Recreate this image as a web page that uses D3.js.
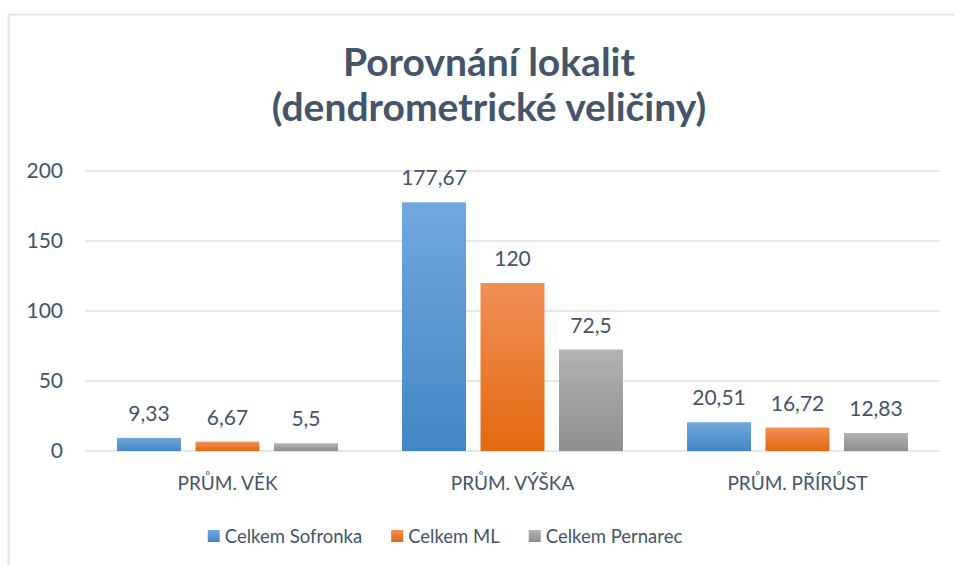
<!DOCTYPE html>
<html>
<head>
<meta charset="utf-8">
<script src="https://cdn.jsdelivr.net/npm/d3@7"></script>
<style>
  body { margin: 0; background: #fff; }
  text { font-family: Lato, "Open Sans", sans-serif; fill: #44546a; }
</style>
</head>
<body>
<div id="chart"></div>
<script>
'use strict';
// data
const categories = ["PRŮM. VĚK", "PRŮM. VÝŠKA", "PRŮM. PŘÍRŮST"];
const seriesNames = ["Celkem Sofronka", "Celkem ML", "Celkem Pernarec"];
const sofronka = [9.33, 177.67, 20.51];
const ml = [6.67, 120, 16.72];
const pernarec = [5.5, 72.5, 12.83];
const yTicks = [0, 50, 100, 150, 200];

const seriesValues = [sofronka, ml, pernarec];
// gradient colours top -> bottom
const colors = [["#72a7dd", "#4386c6"], ["#f18f57", "#e2690f"], ["#b3b3b3", "#8e8e8e"]];

const W = 955, H = 565;
const margin = {left: 85, right: 15, top: 171, bottom: 114};

const svg = d3.select("#chart").append("svg")
    .attr("width", W)
    .attr("height", H);

// light frame of the chart area
svg.append("line").attr("x1", 8).attr("x2", W).attr("y1", 14.5).attr("y2", 14.5)
    .attr("stroke", "#e1e5eb").attr("stroke-width", 2);
svg.append("line").attr("x1", 8.5).attr("x2", 8.5).attr("y1", 14).attr("y2", H)
    .attr("stroke", "#e1e5eb").attr("stroke-width", 2);

const defs = svg.append("defs");
colors.forEach(function(c, i) {
    const g = defs.append("linearGradient")
        .attr("id", "grad" + i)
        .attr("x1", 0).attr("y1", 0).attr("x2", 0).attr("y2", 1);
    g.append("stop").attr("offset", "0%").attr("stop-color", c[0]);
    g.append("stop").attr("offset", "100%").attr("stop-color", c[1]);
});

// title
const title = svg.append("text")
    .attr("text-anchor", "middle")
    .style("font-weight", "bold")
    .style("font-size", "39px");
title.append("tspan").attr("x", 489).attr("y", 76).text("Porovnání lokalit");
title.append("tspan").attr("x", 489).attr("y", 121).text("(dendrometrické veličiny)");

const x0 = d3.scaleBand()
    .domain(categories)
    .range([margin.left, W - margin.right]);

const x1 = d3.scaleBand()
    .domain(seriesNames)
    .range([0, x0.bandwidth()])
    .paddingInner(0.185)
    .paddingOuter(0.408);

const y = d3.scaleLinear()
    .domain([0, 200])
    .range([H - margin.bottom, margin.top]);

// grid lines
svg.append("g")
    .selectAll("line")
    .data(yTicks)
    .enter().append("line")
    .attr("x1", margin.left)
    .attr("x2", W - margin.right)
    .attr("y1", function(d) { return y(d); })
    .attr("y2", function(d) { return y(d); })
    .attr("stroke", "#dcdfe4")
    .attr("stroke-width", 1.5);

// y axis labels
const yAxis = svg.append("g")
    .attr("transform", "translate(" + (margin.left - 22) + ",0)")
    .call(d3.axisLeft(y).tickValues(yTicks).tickSize(0).tickPadding(0));
yAxis.select(".domain").remove();
yAxis.selectAll("text")
    .style("font-size", "21px")
    .style("font-family", "Lato, sans-serif")
    .attr("fill", "#44546a");

// x axis labels
const xAxis = svg.append("g")
    .attr("transform", "translate(0," + y(0) + ")")
    .call(d3.axisBottom(x0).tickSize(0).tickPadding(0));
xAxis.select(".domain").remove();
xAxis.selectAll("text")
    .attr("dy", 0)
    .attr("y", 39)
    .style("font-size", "19px")
    .style("font-family", "Lato, sans-serif")
    .attr("fill", "#44546a");

const fmt = function(v) { return String(v).replace(".", ","); };

// bars
const groups = svg.append("g")
    .selectAll("g")
    .data(categories)
    .enter().append("g")
    .attr("transform", function(d) { return "translate(" + x0(d) + ",0)"; });

groups.selectAll("rect")
    .data(function(d, ci) {
        return seriesNames.map(function(s, si) {
            return {series: s, i: si, value: seriesValues[si][ci]};
        });
    })
    .enter().append("rect")
    .attr("x", function(d) { return x1(d.series); })
    .attr("width", x1.bandwidth())
    .attr("y", function(d) { return y(d.value); })
    .attr("height", function(d) { return y(0) - y(d.value); })
    .attr("fill", function(d) { return "url(#grad" + d.i + ")"; });

// value labels
groups.selectAll("text.val")
    .data(function(d, ci) {
        return seriesNames.map(function(s, si) {
            return {series: s, value: seriesValues[si][ci]};
        });
    })
    .enter().append("text")
    .attr("class", "val")
    .attr("text-anchor", "middle")
    .attr("x", function(d) { return x1(d.series) + x1.bandwidth() / 2; })
    .attr("y", function(d) { return y(d.value) - 17; })
    .style("font-size", "21px")
    .text(function(d) { return fmt(d.value); });

// legend, centred under the plot
const legend = svg.append("g");
const items = legend.selectAll("g")
    .data(seriesNames)
    .enter().append("g");
items.append("rect")
    .attr("width", 12).attr("height", 12)
    .attr("y", 530)
    .attr("fill", function(d, i) { return "url(#grad" + i + ")"; });
items.append("text")
    .attr("x", 17)
    .attr("y", 543)
    .style("font-size", "18.5px")
    .text(function(d) { return d; });
let pos = 0;
const offsets = [];
items.each(function() {
    offsets.push(pos);
    const w = d3.select(this).select("text").node().getComputedTextLength();
    pos += 17 + w + 29;
});
const total = pos - 29;
const startX = 445 - total / 2;
items.attr("transform", function(d, i) { return "translate(" + (startX + offsets[i]) + ",0)"; });
</script>
</body>
</html>
